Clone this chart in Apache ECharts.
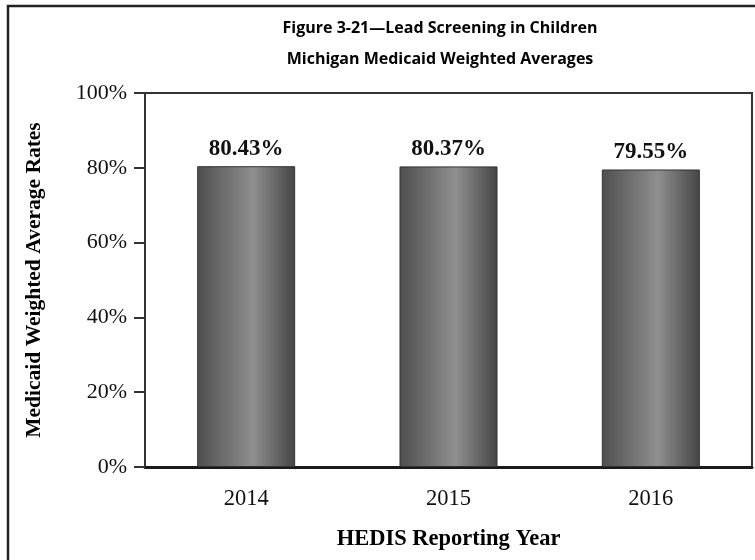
<!DOCTYPE html>
<html>
<head>
<meta charset="utf-8">
<script src="https://cdn.jsdelivr.net/npm/echarts@6/dist/echarts.min.js"></script>
<style>
html,body{margin:0;padding:0;background:#fff;}
#chart{width:755px;height:560px;}
</style>
</head>
<body>
<div id="chart"></div>
<script>
var titleLines = ['Figure 3-21\u2014Lead Screening in Children', 'Michigan Medicaid Weighted Averages'];
var years = ['2014', '2015', '2016'];
var rates = [80.43, 80.37, 79.55];
var yTicks = [0, 20, 40, 60, 80, 100];
var yAxisTitle = 'Medicaid Weighted Average Rates';
var xAxisTitle = 'HEDIS Reporting Year';

var serif = '"Liberation Serif", "Times New Roman", serif';
var chart = echarts.init(document.getElementById('chart'));
chart.setOption({
  animation: false,
  backgroundColor: '#fff',
  graphic: [
    { type: 'rect', shape: { x: 8, y: 6, width: 800, height: 600 }, style: { fill: 'none', stroke: '#222', lineWidth: 2.5 }, z: 100 },
    { type: 'text', x: 440, y: 28, style: { text: titleLines[0], fontFamily: '"Open Sans", sans-serif', fontWeight: 'bold', fontSize: 16, fill: '#000', textAlign: 'center', textVerticalAlign: 'middle' } },
    { type: 'text', x: 440, y: 59, style: { text: titleLines[1], fontFamily: '"Open Sans", sans-serif', fontWeight: 'bold', fontSize: 16, fill: '#000', textAlign: 'center', textVerticalAlign: 'middle' } }
  ],
  grid: { left: 145, right: 3, top: 93, bottom: 93, show: true, borderColor: '#333', borderWidth: 2 },
  xAxis: {
    type: 'category',
    data: years,
    name: xAxisTitle,
    nameLocation: 'middle',
    nameGap: 61,
    nameTextStyle: { fontFamily: serif, fontWeight: 'bold', fontSize: 22.5, color: '#000' },
    axisLine: { lineStyle: { color: '#1a1a1a', width: 3 } },
    axisTick: { alignWithLabel: true, length: 12, lineStyle: { color: '#222', width: 2 } },
    axisLabel: { fontFamily: serif, fontSize: 22.5, color: '#111', margin: 21 }
  },
  yAxis: {
    type: 'value',
    min: 0, max: 100, interval: 20,
    name: yAxisTitle,
    nameLocation: 'middle',
    nameGap: 100,
    nameTextStyle: { fontFamily: serif, fontWeight: 'bold', fontSize: 21.5, color: '#000' },
    splitLine: { show: false },
    axisLine: { show: true, lineStyle: { color: '#333', width: 2 } },
    axisTick: { show: true, length: 11, lineStyle: { color: '#333', width: 2 } },
    axisLabel: { fontFamily: serif, fontSize: 22, color: '#111', margin: 18,
      formatter: function (v) { return yTicks.indexOf(v) >= 0 ? v + '%' : ''; } }
  },
  series: [{
    type: 'bar',
    data: rates,
    barWidth: 98,
    itemStyle: {
      borderColor: '#333', borderWidth: 1,
      color: new echarts.graphic.LinearGradient(0, 0, 1, 0, [
        { offset: 0, color: '#4e4e4e' },
        { offset: 0.57, color: '#8f8f8f' },
        { offset: 1, color: '#454545' }
      ])
    },
    label: {
      show: true, position: 'top', distance: 6,
      fontFamily: serif, fontWeight: 'bold', fontSize: 23, color: '#111',
      formatter: function (p) { return p.value.toFixed(2) + '%'; }
    }
  }]
});
</script>
</body>
</html>
